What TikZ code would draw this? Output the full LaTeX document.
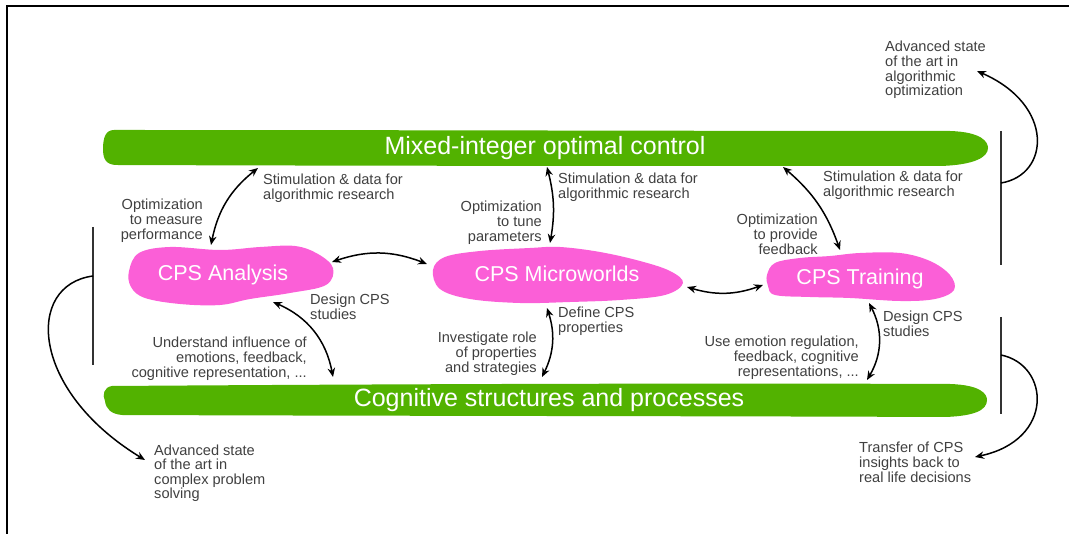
\documentclass[tikz,border=0pt]{standalone}
\usepackage{fontspec}
\setmainfont{Liberation Sans}
\usetikzlibrary{arrows.meta}
\definecolor{bargreen}{RGB}{82,178,0}
\definecolor{blobpink}{RGB}{251,95,215}
\definecolor{txtgray}{RGB}{64,64,64}
\definecolor{brk}{RGB}{50,50,50}
\begin{document}
\begin{tikzpicture}[x=1pt,y=-1pt,
  lbl/.style={text=txtgray, font=\fontsize{14.6}{14.6}\selectfont, inner sep=0pt},
  lblL/.style={lbl, align=left, anchor=base west},
  lblR/.style={lbl, align=right, anchor=base east},
  bartext/.style={text=white, font=\fontsize{25}{25}\selectfont, inner sep=0pt, anchor=base},
  blobtext/.style={text=white, font=\fontsize{21.5}{21.5}\selectfont, inner sep=0pt, anchor=base},
  dbl/.style={{Stealth[length=9pt,width=7.5pt]}-{Stealth[length=9pt,width=7.5pt]}, line width=1.5pt, black},
  sgl/.style={-{Stealth[length=9pt,width=7.5pt]}, line width=1.5pt, black},
  bracket/.style={line width=2pt, brk},
  frame/.style={line width=1.5pt, black}]
\useasboundingbox (0,0) rectangle (1069,534);
% frame
\coordinate (ftr) at (1069,6);
\coordinate (ftl) at (7,6);
\coordinate (fbl) at (7,534);
\draw[frame] (ftr) -- (ftl) -- (fbl);

% green bars
\fill[bargreen] (114,130) .. controls (400,130) and (700,131) .. (950,131)
  .. controls (982,132) and (988,142) .. (988,148)
  .. controls (988,157) and (975,165) .. (940,166)
  .. controls (700,166) and (400,166) .. (117,165)
  .. controls (106,165) and (103,159) .. (103,149)
  .. controls (103,137) and (106,130) .. (114,130) -- cycle;
\fill[bargreen] (112,386) .. controls (400,384) and (700,383) .. (950,384)
  .. controls (981,385) and (987,394) .. (987,400)
  .. controls (987,410) and (975,416) .. (945,417)
  .. controls (700,416) and (400,416) .. (122,415)
  .. controls (111,414) and (106,409) .. (105,401)
  .. controls (102,395) and (104,387) .. (112,386) -- cycle;
\node[bartext] (moc) at (545,155) {Mixed-integer optimal control};
\node[bartext] (csp) at (549,407) {Cognitive structures and processes};

% pink blobs
\fill[blobpink] plot[smooth cycle, tension=0.6] coordinates {
  (129,271) (139,253) (170,247) (220,250) (260,247) (295,246) (318,254) (333,268)
  (326,285) (290,293) (250,299) (220,305) (180,304) (145,298) (131,287)};
\fill[blobpink] plot[smooth cycle, tension=0.6] coordinates {
  (433,270) (445,257) (480,251) (530,248) (560,247) (600,252) (640,261) (670,271)
  (683,283) (665,295) (620,300) (570,302) (520,303) (470,299) (440,289)};
\fill[blobpink] plot[smooth cycle, tension=0.6] coordinates {
  (767,275) (775,263) (800,258) (830,256) (860,253) (900,253) (930,261) (950,275)
  (954,290) (935,299) (900,301) (850,298) (810,297) (775,295) (768,286)};
\node[blobtext] (ana) at (223,281) {CPS Analysis};
\node[blobtext] (mic) at (557,282) {CPS Microworlds};
\node[blobtext] (tra) at (860,285) {CPS Training};

% arrow end points
\coordinate (a1s) at (258,168); \coordinate (a1e) at (211,245);
\coordinate (a2s) at (332,262); \coordinate (a2e) at (427,264);
\coordinate (a3s) at (547,167); \coordinate (a3e) at (550,243);
\coordinate (a4s) at (783,167); \coordinate (a4e) at (840,250);
\coordinate (a5s) at (687,287); \coordinate (a5e) at (763,285);
\coordinate (a6s) at (273,302); \coordinate (a6e) at (333,377);
\coordinate (a7s) at (547,308); \coordinate (a7e) at (542,377);
\coordinate (a8s) at (869,303); \coordinate (a8e) at (867,380);
\draw[dbl] (a1s) to[bend right=20] (a1e);
\draw[dbl] (a2s) to[bend left=20] (a2e);
\draw[dbl] (a3s) to[bend left=12] (a3e);
\draw[dbl] (a4s) to[bend left=15] (a4e);
\draw[dbl] (a5s) to[bend right=18] (a5e);
\draw[dbl] (a6s) to[bend left=28] (a6e);
\draw[dbl] (a7s) to[bend left=22] (a7e);
\draw[dbl] (a8s) to[bend left=29] (a8e);

% brackets
\coordinate (rt1) at (1001,131); \coordinate (rt2) at (1001,265); \coordinate (rtc) at (1001,183);
\coordinate (lt1) at (93,227); \coordinate (lt2) at (93,365); \coordinate (ltc) at (93,276);
\coordinate (rb1) at (1001,317); \coordinate (rb2) at (1001,414); \coordinate (rbc) at (1001,355);
\draw[bracket] (rt1) -- (rt2);
\draw[bracket] (lt1) -- (lt2);
\draw[bracket] (rb1) -- (rb2);
\coordinate (artip) at (977,71);
\coordinate (altip) at (145,460);
\coordinate (abtip) at (975,457);
\draw[sgl] (rtc) .. controls (1050,175) and (1055,105) .. (artip);
\draw[sgl] (ltc) .. controls (25,285) and (30,390) .. (altip);
\draw[sgl] (rbc) .. controls (1050,365) and (1055,440) .. (abtip);

% labels (anchor = baseline of the last line)
\node[lblL] (advopt) at (885,95.8) {Advanced state\\of the art in\\algorithmic\\optimization};
\node[lblL] (stim1) at (263,199.6) {Stimulation \& data for\\algorithmic research};
\node[lblL] (stim2) at (558,198.6) {Stimulation \& data for\\algorithmic research};
\node[lblL] (stim3) at (823,196.6) {Stimulation \& data for\\algorithmic research};
\node[lblR] (opt1) at (203,239.2) {Optimization\\to measure\\performance};
\node[lblR] (opt2) at (542,241.2) {Optimization\\to tune\\parameters};
\node[lblR] (opt3) at (818,254.2) {Optimization\\to provide\\feedback};
\node[lblL] (des1) at (310,319.6) {Design CPS\\studies};
\node[lblL] (def) at (558,332.6) {Define CPS\\properties};
\node[lblL] (des2) at (883,336.6) {Design CPS\\studies};
\node[lblR] (und) at (307,377.2) {Understand influence of\\emotions, feedback,\\cognitive representation, ...};
\node[lblR] (inv) at (537,372.2) {Investigate role\\of properties\\and strategies};
\node[lblR] (use) at (859,376.2) {Use emotion regulation,\\feedback, cognitive\\representations, ...};
\node[lblL] (advcps) at (154,498.8) {Advanced state\\of the art in\\complex problem\\solving};
\node[lblL] (trans) at (859,482.2) {Transfer of CPS\\insights back to\\real life decisions};
\end{tikzpicture}
\end{document}
